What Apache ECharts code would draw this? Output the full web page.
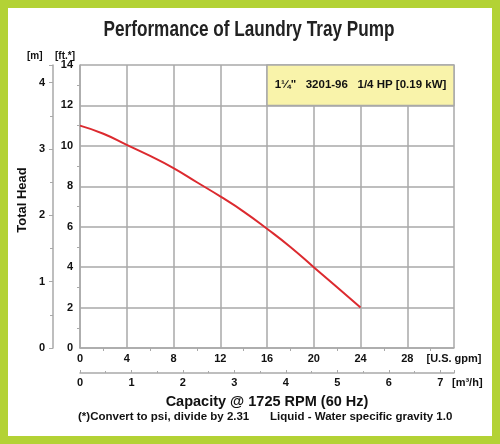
<!DOCTYPE html>
<html>
<head>
<meta charset="utf-8">
<script src="https://cdn.jsdelivr.net/npm/echarts@6/dist/echarts.min.js"></script>
<style>
  html, body { margin: 0; padding: 0; background: #fff; }
  #pump-curve { width: 500px; height: 444px; }
</style>
</head>
<body>
<div id="pump-curve"></div>
<script>
// capacity in U.S. gpm, head in ft
const flowGpm = [0, 2, 4, 6, 8, 10, 12, 14, 16, 18, 20, 22, 24];
const headFt = [11.0, 10.6, 10.05, 9.5, 8.9, 8.2, 7.5, 6.75, 5.9, 5.0, 4.0, 3.0, 2.0];
const modelText = '1¼"   3201-96   1/4 HP [0.19 kW]';
const boxFrom = [16, 12];
const boxTo = [32, 14];

const gpmMax = 32;
const ftMax = 14;
const m3hMax = gpmMax / 4.4029;
const mMax = ftMax / 3.2808;

const gray = "#a9a9a9";
const font = "Liberation Sans, Arial, sans-serif";
const lbl = { fill: "#111", color: "#111", fontWeight: "bold", fontSize: 11, fontFamily: font };

const chart = echarts.init(document.getElementById("pump-curve"));

const option = {
  backgroundColor: "#fff",
  animation: false,
  grid: { left: 80, top: 65, right: 46, bottom: 96 },
  xAxis: [
    {
      type: "value",
      min: 0,
      max: gpmMax,
      interval: 4,
      axisLine: { show: true, onZero: false, lineStyle: { color: gray, width: 1.5 } },
      axisTick: { show: false },
      minorTick: { show: true, splitNumber: 2, length: 3, lineStyle: { color: gray } },
      splitLine: { show: true, lineStyle: { color: gray, width: 1.5 } },
      axisLabel: Object.assign({}, lbl, {
        margin: 5,
        formatter: v => (v === gpmMax ? "[U.S. gpm]" : v)
      })
    },
    {
      type: "value",
      position: "bottom",
      offset: 25,
      min: 0,
      max: m3hMax,
      interval: 1,
      axisLine: { show: true, onZero: false, lineStyle: { color: gray, width: 1.5 } },
      axisTick: { show: true, inside: true, length: 3, lineStyle: { color: gray } },
      minorTick: { show: true, splitNumber: 2, length: 2, lineStyle: { color: gray } },
      splitLine: { show: false },
      axisLabel: Object.assign({}, lbl, { margin: 4, showMaxLabel: false })
    }
  ],
  yAxis: [
    {
      type: "value",
      min: 0,
      max: ftMax,
      interval: 2,
      axisLine: { show: true, onZero: false, lineStyle: { color: gray, width: 1.5 } },
      axisTick: { show: false },
      minorTick: { show: true, splitNumber: 2, length: 3, lineStyle: { color: gray } },
      splitLine: { show: true, lineStyle: { color: gray, width: 1.5 } },
      axisLabel: Object.assign({}, lbl, { margin: 7 })
    },
    {
      type: "value",
      position: "left",
      offset: 27,
      min: 0,
      max: mMax,
      interval: 1,
      axisLine: { show: true, onZero: false, lineStyle: { color: gray, width: 1.5 } },
      axisTick: { show: true, length: 4, lineStyle: { color: gray } },
      minorTick: { show: true, splitNumber: 2, length: 3, lineStyle: { color: gray } },
      splitLine: { show: false },
      axisLabel: Object.assign({}, lbl, { margin: 8, showMaxLabel: false })
    }
  ],
  series: [
    {
      type: "line",
      xAxisIndex: 0,
      yAxisIndex: 0,
      smooth: true,
      showSymbol: false,
      lineStyle: { color: "#dc2a2f", width: 2 },
      data: flowGpm.map((q, i) => [q, headFt[i]]),
      markArea: {
        silent: true,
        itemStyle: { color: "#f9f3aa", borderColor: gray, borderWidth: 1.5 },
        label: {
          show: true,
          position: "inside",
          color: "#111",
          fontWeight: "bold",
          fontSize: 11.5,
          fontFamily: font,
          formatter: modelText
        },
        data: [[{ coord: boxFrom }, { coord: boxTo }]]
      }
    }
  ],
  graphic: [
    {
      type: "rect",
      z: -10,
      silent: true,
      shape: { x: 0, y: 0, width: 500, height: 444 },
      style: { fill: "#fff", stroke: "#b3d235", lineWidth: 16 }
    },
    {
      // condensed-looking title
      type: "text",
      x: 249,
      y: 30,
      scaleX: 0.78,
      style: Object.assign({ text: "Performance of Laundry Tray Pump", textAlign: "center", textVerticalAlign: "middle" }, lbl, { fill: "#222", fontSize: 22 })
    },
    { type: "text", left: 27, top: 51, style: Object.assign({ text: "[m]" }, lbl, { fontSize: 10 }) },
    { type: "text", left: 55, top: 51, style: Object.assign({ text: "[ft.*]" }, lbl, { fontSize: 10 }) },
    { type: "text", left: 452, top: 377, style: Object.assign({ text: "[m³/h]" }, lbl) },
    {
      type: "text",
      x: 22,
      y: 200,
      rotation: Math.PI / 2,
      style: Object.assign({ text: "Total Head", textAlign: "center", textVerticalAlign: "middle" }, lbl, { fontSize: 13 })
    },
    {
      type: "text",
      x: 267,
      y: 402,
      style: Object.assign({ text: "Capacity @ 1725 RPM (60 Hz)", textAlign: "center", textVerticalAlign: "middle" }, lbl, { fontSize: 14.5 })
    },
    {
      type: "text",
      x: 78,
      y: 417,
      style: Object.assign({ text: "(*)Convert to psi, divide by 2.31", textVerticalAlign: "middle" }, lbl, { fontSize: 11.5 })
    },
    {
      type: "text",
      x: 270,
      y: 417,
      style: Object.assign({ text: "Liquid - Water specific gravity 1.0", textVerticalAlign: "middle" }, lbl, { fontSize: 11.5 })
    }
  ]
};

chart.setOption(option);
</script>
</body>
</html>
